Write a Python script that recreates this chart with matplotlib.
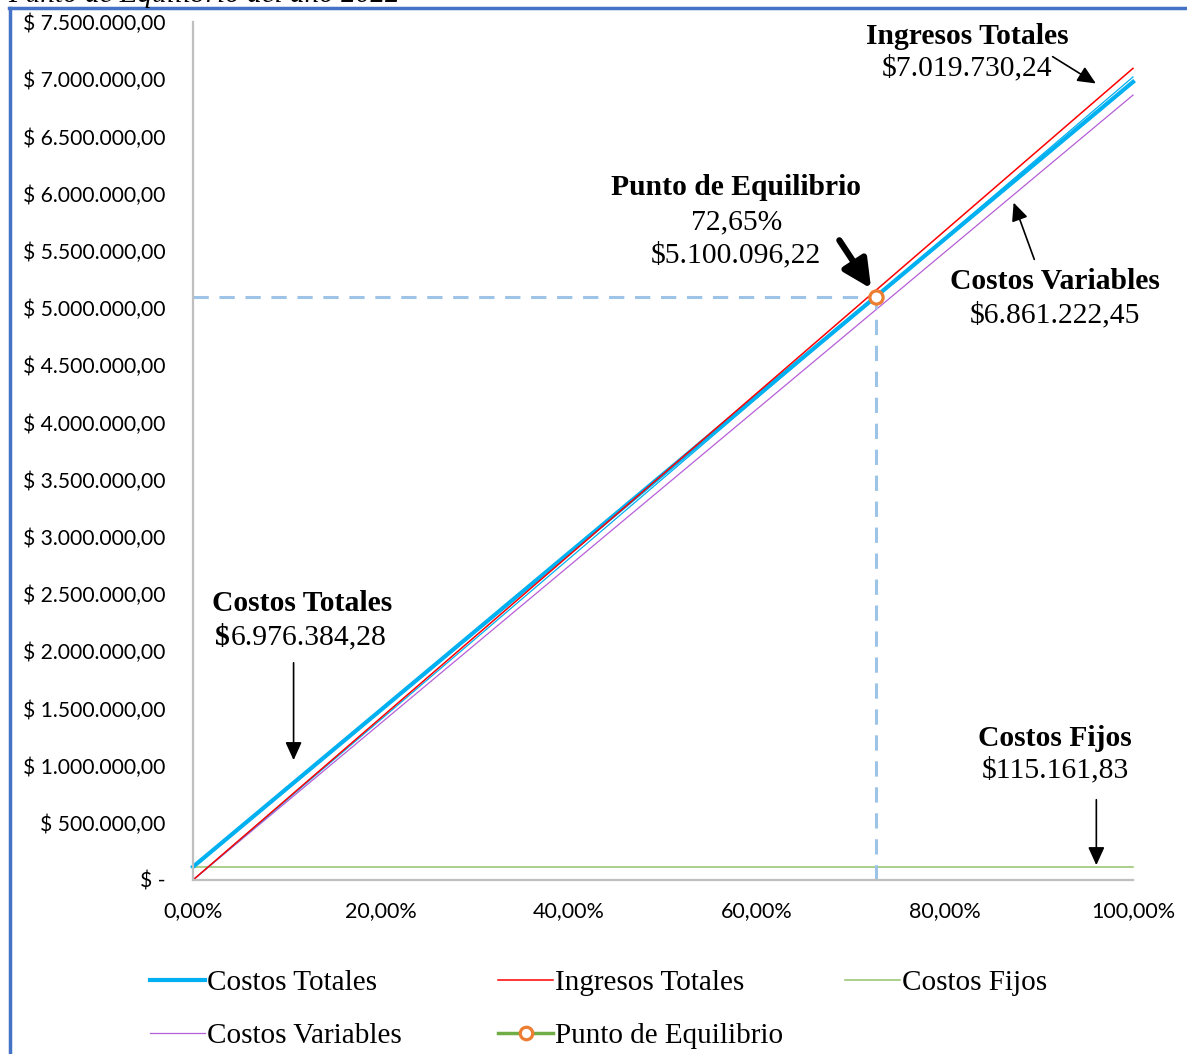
import matplotlib
matplotlib.use("Agg")
import matplotlib.pyplot as plt
from matplotlib.lines import Line2D

plt.rcParams['text.parse_math'] = False

# datos del punto de equilibrio
pct = [0.0, 1.0]
costos_fijos = [115161.83, 115161.83]
costos_variables = [0.0, 6861222.45]
costos_totales = [115161.83, 6976384.28]
ingresos_totales = [0.0, 7095000.0]
ingresos_ref = [0.0, 7019730.24]
pe_pct = 0.7265
pe_valor = 5100096.22

y_ticks = [0, 500000, 1000000, 1500000, 2000000, 2500000, 3000000, 3500000,
           4000000, 4500000, 5000000, 5500000, 6000000, 6500000, 7000000, 7500000]
y_labels = ["$ -", "$ 500.000,00", "$ 1.000.000,00", "$ 1.500.000,00", "$ 2.000.000,00",
            "$ 2.500.000,00", "$ 3.000.000,00", "$ 3.500.000,00", "$ 4.000.000,00",
            "$ 4.500.000,00", "$ 5.000.000,00", "$ 5.500.000,00", "$ 6.000.000,00",
            "$ 6.500.000,00", "$ 7.000.000,00", "$ 7.500.000,00"]
x_ticks = [0, 0.2, 0.4, 0.6, 0.8, 1.0]
x_labels = ["0,00%", "20,00%", "40,00%", "60,00%", "80,00%", "100,00%"]

serif = "Liberation Serif"
tick_font = "Lato"

fig = plt.figure(figsize=(11.87, 10.54), dpi=100)
ax = fig.add_axes([193/1187, 1-880/1054, 940/1187, 858/1054])

ax.plot(pct, costos_fijos, color="#92C36A", lw=1.1, clip_on=False)
ax.plot(pct, costos_variables, color="#B65FD8", lw=0.9, clip_on=False)
ax.plot(pct, ingresos_ref, color="#00B0F0", lw=0.9, clip_on=False)
ax.plot(pct, costos_totales, color="#00B0F0", lw=3.0, clip_on=False)
ax.plot(pct, ingresos_totales, color="#FF0000", lw=1.1, clip_on=False)

# lineas guia del punto de equilibrio
ax.plot([0, pe_pct], [pe_valor, pe_valor], color="#9DC3E6", lw=2.2, dashes=(5, 3.5))
ax.plot([pe_pct, pe_pct], [0, pe_valor], color="#9DC3E6", lw=2.2, dashes=(5, 3.5))
ax.plot([pe_pct], [pe_valor], marker="o", ms=9.5, mfc="white", mec="#ED7D31", mew=2.3)

ax.set_xlim(0, 1)
ax.set_ylim(0, 7500000)
ax.set_xticks(x_ticks)
ax.set_xticklabels(x_labels, fontfamily=tick_font, fontsize=15.5)
ax.set_yticks(y_ticks)
ax.set_yticklabels(y_labels, fontfamily=tick_font, fontsize=15.2)
ax.tick_params(axis="y", length=0, pad=20)
ax.tick_params(axis="x", length=0, pad=15)
for s in ["top", "right"]:
    ax.spines[s].set_visible(False)
for s in ["left", "bottom"]:
    ax.spines[s].set_color("#BFBFBF")
    ax.spines[s].set_linewidth(1.6)

fs = 21.3
thin_arrow = dict(arrowstyle="-|>,head_length=1.1,head_width=0.5", color="black", lw=1.2)

# Ingresos Totales
ax.text(0.824, 7377000, "Ingresos Totales", ha="center", va="center", fontfamily=serif,
        fontsize=fs, fontweight="bold")
ax.text(0.824, 7098000, "$7.019.730,24", ha="center", va="center", fontfamily=serif, fontsize=fs)
ax.annotate("", xy=(0.963, 6950000), xytext=(0.912, 7210000), arrowprops=thin_arrow)

# Punto de Equilibrio
ax.text(0.578, 6049000, "Punto de Equilibrio", ha="center", va="center", fontfamily=serif,
        fontsize=fs, fontweight="bold")
ax.text(0.578, 5752000, "72,65%", ha="center", va="center", fontfamily=serif, fontsize=fs)
ax.text(0.578, 5463000, "$5.100.096,22", ha="center", va="center", fontfamily=serif, fontsize=fs)
ax.annotate("", xy=(0.723, 5150000), xytext=(0.686, 5612000),
            arrowprops=dict(arrowstyle="-|>,head_length=0.85,head_width=0.42", color="black",
                            lw=4.5, mutation_scale=20))

# Costos Variables
ax.text(0.917, 5236000, "Costos Variables", ha="center", va="center", fontfamily=serif,
        fontsize=fs, fontweight="bold")
ax.text(0.917, 4939000, "$6.861.222,45", ha="center", va="center", fontfamily=serif, fontsize=fs)
ax.annotate("", xy=(0.872, 5944000), xytext=(0.896, 5402000), arrowprops=thin_arrow)

# Costos Totales
ax.text(0.116, 2413000, "Costos Totales", ha="center", va="center", fontfamily=serif,
        fontsize=fs, fontweight="bold")
ax.text(0.039, 2124000, "$", ha="right", va="center", fontfamily=serif, fontsize=fs, fontweight="bold")
ax.text(0.040, 2124000, "6.976.384,28", ha="left", va="center", fontfamily=serif, fontsize=fs)
ax.annotate("", xy=(0.107, 1023000), xytext=(0.107, 1923000), arrowprops=thin_arrow)

# Costos Fijos
ax.text(0.917, 1241000, "Costos Fijos", ha="center", va="center", fontfamily=serif,
        fontsize=fs, fontweight="bold")
ax.text(0.917, 962000, "$115.161,83", ha="center", va="center", fontfamily=serif, fontsize=fs)
ax.annotate("", xy=(0.961, 105000), xytext=(0.961, 726000), arrowprops=thin_arrow)

# leyenda en tres columnas
h_ct = Line2D([], [], color="#00B0F0", lw=3.0)
h_cv = Line2D([], [], color="#B65FD8", lw=0.9)
h_it = Line2D([], [], color="#FF0000", lw=1.1)
h_pe = Line2D([], [], color="#70AD47", lw=2.5, marker="o", ms=9, mfc="white", mec="#ED7D31", mew=2.3)
h_cf = Line2D([], [], color="#92C36A", lw=1.1)
leg_kw = dict(loc="upper left", frameon=False, prop={"family": serif, "size": 21},
              handlelength=1.9, handletextpad=0.05, borderpad=0, borderaxespad=0,
              labelspacing=0.89)
fig.legend([h_ct, h_cv], ["Costos Totales", "Costos Variables"],
           bbox_to_anchor=(150/1187, 1-970/1054), **leg_kw)
fig.legend([h_it, h_pe], ["Ingresos Totales", "Punto de Equilibrio"],
           bbox_to_anchor=(498/1187, 1-970/1054), **leg_kw)
fig.legend([h_cf], ["Costos Fijos"],
           bbox_to_anchor=(845/1187, 1-970/1054), **leg_kw)

# marco y titulo cortado
fig.add_artist(Line2D([10/1187, 10/1187], [0, 1-8/1054], color="#4472C4", lw=2.5))
fig.add_artist(Line2D([9/1187, 1], [1-8/1054, 1-8/1054], color="#4472C4", lw=2.5))
fig.text(8/1187, 1-1.5/1054, "Punto de Equilibrio del año 2022", ha="left", va="baseline",
         fontfamily=serif, fontsize=21, fontstyle="italic")

fig.savefig("out.png", dpi=100)
